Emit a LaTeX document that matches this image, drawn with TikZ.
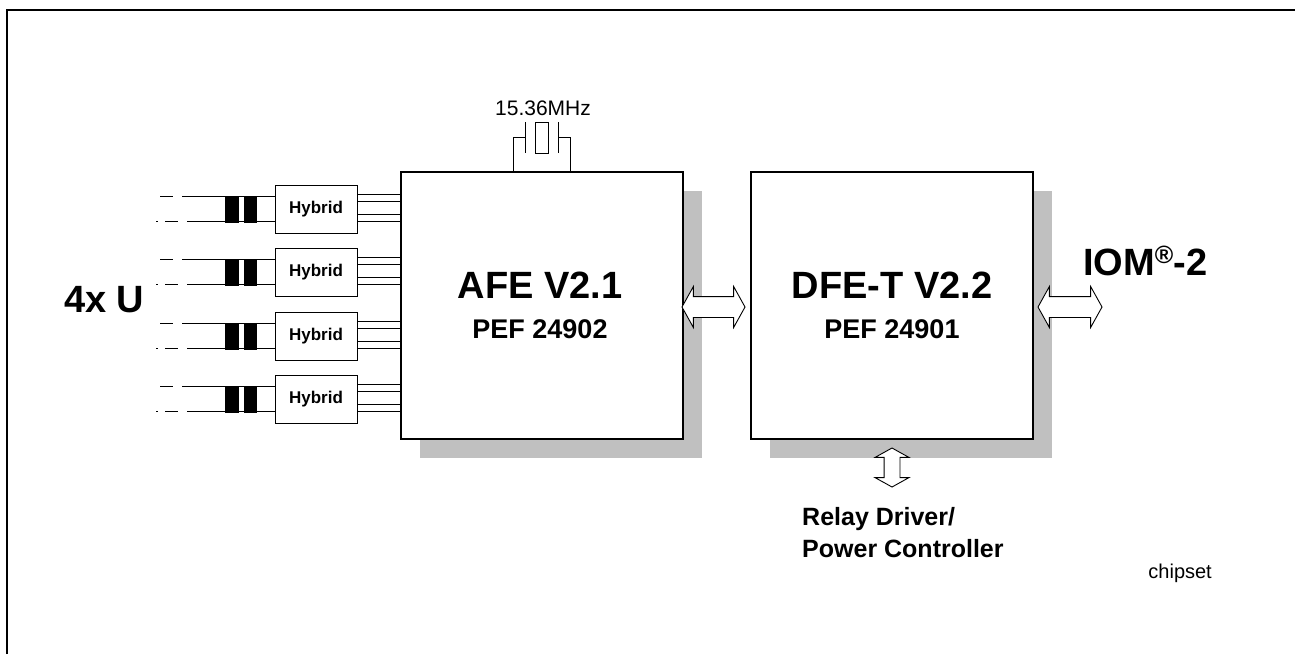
\documentclass[tikz,border=0pt]{standalone}
\usepackage{fontspec}
\setmainfont{Liberation Sans}
\usetikzlibrary{shapes.arrows,shadows}
\definecolor{shadowgray}{RGB}{192,192,192}
\tikzset{
    chip/.style={draw, line width=1.3pt, fill=white, minimum width=282pt, minimum height=267pt, inner sep=0pt,
        drop shadow={shadow xshift=19pt, shadow yshift=-19pt, fill=shadowgray, opacity=1}},
    chipname/.style={font=\bfseries\fontsize{38}{40}\selectfont, inner sep=0pt},
    chiptype/.style={font=\bfseries\fontsize{27}{30}\selectfont, inner sep=0pt},
    hybridbox/.style={draw, line width=1pt, fill=white, minimum width=82pt, minimum height=48pt, font=\bfseries\fontsize{17}{19}\selectfont},
    busarrow/.style={double arrow, draw, line width=0.9pt, fill=white, inner xsep=0pt, inner ysep=10pt, double arrow tip angle=122, double arrow head extend=10pt, minimum height=63pt},
    wire/.style={line width=0.9pt},
}
\begin{document}
\begin{tikzpicture}[x=1pt, y=-1pt]
    \useasboundingbox (0,0) rectangle (1295,654);
    % Rahmen
    \draw[line width=2.5pt] (7,654) -- (7,10) -- (1295,10);

    % Bausteine
    \node[chip] (afe) at (542,305.5) {};
    \node[chipname, anchor=base] (afename) at (540,298) {AFE V2.1};
    \node[chiptype, anchor=base] (afetype) at (540,338) {PEF 24902};
    \node[chip] (dfe) at (892,305.5) {};
    \node[chipname, anchor=base] (dfename) at (892,298) {DFE-T V2.2};
    \node[chiptype, anchor=base] (dfetype) at (892,338) {PEF 24901};

    % Quarz
    \node[draw, wire, minimum width=13pt, minimum height=31pt, inner sep=0pt] (xtal) at (541.5,137.5) {};
    \node[anchor=base, font=\fontsize{21}{23}\selectfont, inner sep=0pt] (xtalfreq) at (543,115) {15.36MHz};
    \draw[wire] (525,122) -- (525,153);
    \draw[wire] (558,122) -- (558,153);
    \draw[wire] (525,137) -- (513,137) -- (513,0 |- afe.north);
    \draw[wire] (558,137) -- (570,137) -- (570,0 |- afe.north);

    % Hybride und Leitungen
    \foreach \i/\y in {1/209, 2/272, 3/336, 4/399} {
        \node[hybridbox] (hyb\i) at (316,\y) {Hybrid};
        \foreach \d in {15,8,-5,-12}
            \draw[wire] ([yshift=\d pt]hyb\i.east) -- ([yshift=\d pt]hyb\i.east -| afe.west);
        \draw[wire] ([yshift=12.5pt]hyb\i.west) -- (182,\y-12.5);
        \draw[wire, dash pattern=on 13pt off 9pt] (160,\y-12.5) -- (182,\y-12.5);
        \draw[wire] ([yshift=-12.5pt]hyb\i.west) -- (187,\y+12.5);
        \draw[wire, dash pattern=on 2pt off 7pt on 13pt off 9pt] (156,\y+12.5) -- (187,\y+12.5);
        \fill (225,\y-13.5) rectangle (239,\y+13.5);
        \fill (244,\y-13.5) rectangle (257,\y+13.5);
    }
    \node[anchor=base west, font=\bfseries\fontsize{38}{40}\selectfont, inner sep=0pt] (ulabel) at (64,312) {4x U};

    % Schnittstellen
    \node[busarrow] (afedfe) at (713.5,307) {};
    \node[busarrow, minimum height=64pt] (iombus) at (1070,307) {};
    \node[anchor=base west, font=\bfseries\fontsize{38}{40}\selectfont, inner sep=0pt] (iom) at (1083,275) {IOM\raisebox{12pt}{\fontsize{25}{25}\selectfont\textregistered}-2};
    \node[busarrow, rotate=90, inner ysep=7.5pt, double arrow head extend=9pt, minimum height=39pt] (relaybus) at (892,467.5) {};
    \node[anchor=base west, align=left, font=\bfseries\fontsize{25}{32}\selectfont, inner sep=0pt] (relay) at (802,557) {Relay Driver/\\Power Controller};
    \node[anchor=base east, font=\fontsize{20}{22}\selectfont, inner sep=0pt] (chipset) at (1212,578) {chipset};
\end{tikzpicture}
\end{document}
